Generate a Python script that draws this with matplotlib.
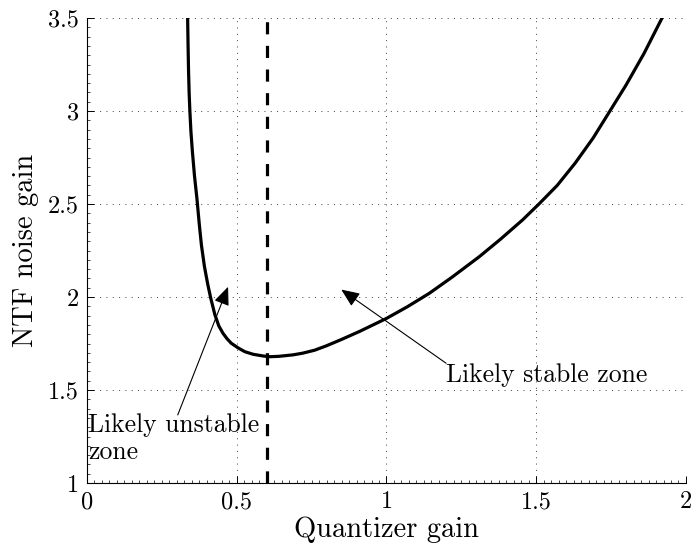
"""NTF noise gain versus quantizer gain, with stable/unstable zones marked."""

import matplotlib

matplotlib.use("Agg")
import matplotlib.pyplot as plt
from matplotlib.ticker import MultipleLocator

plt.rcParams["font.family"] = ["cmr10", "DejaVu Serif"]
plt.rcParams["axes.formatter.use_mathtext"] = True
plt.rcParams["mathtext.fontset"] = "cm"

# Measured NTF noise gain against quantizer gain
quantizer_gain = [0.336, 0.3375, 0.339, 0.341, 0.3435, 0.347, 0.352, 0.359, 0.367,
                  0.375, 0.382, 0.392, 0.403, 0.413, 0.427, 0.440, 0.454, 0.468,
                  0.482, 0.505, 0.527, 0.555, 0.588, 0.610, 0.640, 0.688, 0.720,
                  0.760, 0.800, 0.850, 0.910, 1.000, 1.070, 1.143, 1.220, 1.310,
                  1.380, 1.454, 1.509, 1.570, 1.630, 1.690, 1.746, 1.800, 1.860,
                  1.920]
ntf_noise_gain = [3.500, 3.350, 3.220, 3.100, 3.000, 2.890, 2.780, 2.650, 2.530,
                  2.390, 2.280, 2.165, 2.070, 1.995, 1.905, 1.845, 1.805, 1.775,
                  1.751, 1.726, 1.706, 1.692, 1.683, 1.679, 1.681, 1.689, 1.698,
                  1.714, 1.738, 1.772, 1.815, 1.885, 1.948, 2.020, 2.108, 2.217,
                  2.310, 2.414, 2.500, 2.600, 2.720, 2.855, 3.000, 3.140, 3.310,
                  3.500]

stability_limit = 0.6

x_ticks = [0, 0.5, 1, 1.5, 2]
y_ticks = [1, 1.5, 2, 2.5, 3, 3.5]

unstable_label = "Likely unstable\nzone"
unstable_tip = (0.471, 2.055)
unstable_tail = (0.303, 1.366)
stable_label = "Likely stable zone"
stable_tip = (0.849, 2.040)
stable_tail = (1.199, 1.644)

fig = plt.figure(figsize=(6.96, 5.47), dpi=100)
ax = fig.add_axes([0.125, 0.117, 0.8606, 0.850])

ax.plot(quantizer_gain, ntf_noise_gain, color="black", lw=2.3,
        solid_joinstyle="round", zorder=3)
ax.plot([stability_limit, stability_limit], [1, 3.5], color="black", lw=2.3,
        dashes=(3.8, 3.6), zorder=3)

ax.set_xlim(0, 2)
ax.set_ylim(1, 3.5)
ax.set_xticks(x_ticks)
ax.set_yticks(y_ticks)
ax.set_xticklabels(["0", "0.5", "1", "1.5", "2"])
ax.set_yticklabels(["1", "1.5", "2", "2.5", "3", "3.5"])
ax.xaxis.set_minor_locator(MultipleLocator(0.025))
ax.yaxis.set_minor_locator(MultipleLocator(0.05))
ax.tick_params(which="major", direction="in", length=5, width=0.7,
               labelsize=17.5, pad=6)
ax.tick_params(which="minor", direction="in", length=2.5, width=0.5)
ax.tick_params(top=False, right=False, which="both")
ax.spines["top"].set_visible(False)
ax.spines["right"].set_visible(False)
for side in ("left", "bottom"):
    ax.spines[side].set_linewidth(0.8)

ax.grid(True, which="major", color="0.25", lw=0.7, ls=(0, (1, 5.5)))

ax.set_xlabel("Quantizer gain", fontsize=20.5, labelpad=2)
ax.set_ylabel("NTF noise gain", fontsize=20.5, labelpad=6)

arrow_style = "-|>,head_length=0.8,head_width=0.34"
ax.annotate("", xy=unstable_tip, xytext=unstable_tail,
            arrowprops=dict(arrowstyle=arrow_style, color="black", lw=0.8,
                            mutation_scale=14, shrinkA=0, shrinkB=0))
ax.annotate("", xy=stable_tip, xytext=stable_tail,
            arrowprops=dict(arrowstyle=arrow_style, color="black", lw=0.8,
                            mutation_scale=14, shrinkA=0, shrinkB=0))

ax.text(0.005, 1.375, unstable_label, fontsize=18.5, ha="left", va="top",
        linespacing=1.2)
ax.text(stable_tail[0], 1.545, stable_label, fontsize=18.5, ha="left",
        va="baseline")

fig.savefig("out.png", dpi=100)
